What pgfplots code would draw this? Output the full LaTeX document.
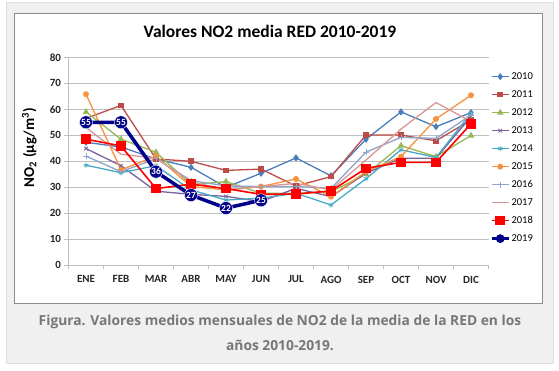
\documentclass[border=0pt]{standalone}
\usepackage{pgfplots}
\usepackage{pgfplotstable}
\pgfplotsset{compat=1.18}
\usepackage{fontspec}
\setmainfont{Carlito}
\newfontfamily\capfont{Open Sans}
\usetikzlibrary{plotmarks}
\definecolor{cA}{HTML}{4A7EBB}
\definecolor{cB}{HTML}{BE4B48}
\definecolor{cC}{HTML}{98B954}
\definecolor{cD}{HTML}{7D60A0}
\definecolor{cE}{HTML}{46AAC5}
\definecolor{cF}{HTML}{F69240}
\definecolor{cG}{HTML}{8EA5CB}
\definecolor{cH}{HTML}{D99694}
\definecolor{cI}{HTML}{FF0000}
\definecolor{cJ}{HTML}{00008B}
\definecolor{panel}{HTML}{F0F0F0}
\definecolor{panelborder}{HTML}{DDDDDD}
\definecolor{boxborder}{HTML}{8C8C8C}
\definecolor{gridc}{HTML}{BFBFBF}
\definecolor{capc}{HTML}{777777}

\pgfplotstableread{
m  a    b    c    d    e    f    g    h    i
0  47.3 56.5 59.0 44.9 38.5 65.8 42.0 53.0 48.5
1  45.5 61.5 48.5 38.3 35.6 36.7 36.0 42.7 45.9
2  40.9 40.9 43.5 28.5 38.3 42.0 41.0 41.2 29.5
3  37.7 40.0 31.0 27.3 29.0 30.3 32.6 32.2 31.2
4  30.0 36.5 32.2 26.5 25.1 29.0 30.5 29.0 29.5
5  35.4 37.0 27.7 24.5 25.8 30.3 30.3 30.3 27.3
6  41.3 30.5 27.7 29.6 27.7 33.2 30.3 31.5 27.4
7  34.4 34.1 28.3 26.4 23.2 26.4 29.6 29.0 28.6
8  48.5 50.1 35.0 35.4 33.3 36.0 43.5 40.5 37.3
9  59.0 50.1 46.0 41.2 44.4 41.8 49.2 52.4 39.6
10 53.3 47.9 41.8 41.2 41.5 56.3 48.8 62.6 39.6
11 58.7 55.9 49.9 57.2 58.5 65.4 57.8 55.3 54.4
}\datatable
\pgfplotstableread{
m  j
0  55
1  55
2  36
3  27
4  22
5  25
}\datanineteen

\begin{document}
\begin{tikzpicture}[x=1pt,y=1pt]
\useasboundingbox (0,0) rectangle (559,371);
\fill[white] (0,0) rectangle (559,371);
\filldraw[fill=panel, draw=panelborder, line width=0.8pt] (6,8) rectangle (553,369);
\filldraw[fill=white, draw=boxborder, line width=0.6pt] (14,68) rectangle (542,358);
\node[font=\fontsize{17.5}{19}\selectfont\bfseries] at (270,340) {Valores NO2 media RED 2010-2019};
\node[font=\capfont\fontsize{13.8}{16}\selectfont\bfseries, text=capc] at (280,49.5) {Figura. Valores medios mensuales de NO2 de la media de la RED en los};
\node[font=\capfont\fontsize{13.8}{16}\selectfont\bfseries, text=capc] at (280,25.5) {años 2010-2019.};
\begin{axis}[
  at={(68.5pt,105.7pt)}, anchor=south west,
  scale only axis, width=420pt, height=208pt,
  xmin=-0.5, xmax=11.5, ymin=0, ymax=80,
  ytick={0,10,...,80},
  xtick={0,...,11},
  xticklabels={ENE,FEB,MAR,ABR,MAY,JUN,JUL,AGO,SEP,OCT,NOV,DIC},
  minor xtick={-0.5,0.5,...,11.5},
  axis x line*=bottom, axis y line*=left,
  axis line style={draw=gridc, line width=0.8pt},
  ymajorgrids, grid style={draw=gridc, line width=0.7pt},
  tick align=outside,
  major tick length=4pt, minor tick length=4pt,
  x tick style={draw=none}, minor x tick style={draw=gridc, line width=0.7pt},
  y tick style={draw=gridc, line width=0.7pt},
  tick label style={font=\fontsize{11}{13}\selectfont\bfseries, text=black!85},
  xticklabel style={yshift=-3pt},
  /pgf/number format/assume math mode=true,
  ylabel={NO\textsubscript{2} (µg/m\textsuperscript{3})},
  ylabel style={font=\fontsize{15}{17}\selectfont\bfseries, at={(axis description cs:-0.093,0.566)}, anchor=center},
  legend style={at={(1.003,0.932)}, anchor=north west, draw=none, fill=none,
    font=\fontsize{10.5}{12}\selectfont, row sep=8pt, inner sep=0pt,
    nodes={inner sep=1pt, text height=7pt, text depth=1pt}},
  legend cell align=left,
  clip=false,
]
\addplot[color=cA, line width=1.3pt, mark=diamond*, mark size=2.6pt] table[x=m,y=a]{\datatable};
\addlegendentry{2010}
\addplot[color=cB, line width=1.3pt, mark=square*, mark size=2.2pt] table[x=m,y=b]{\datatable};
\addlegendentry{2011}
\addplot[color=cC, line width=1.3pt, mark=triangle*, mark size=2.6pt] table[x=m,y=c]{\datatable};
\addlegendentry{2012}
\addplot[color=cD, line width=1.3pt, mark=x, mark size=2.6pt, mark options={line width=0.8pt}] table[x=m,y=d]{\datatable};
\addlegendentry{2013}
\addplot[color=cE, line width=1.3pt, mark=asterisk, mark size=2.6pt, mark options={line width=0.8pt}] table[x=m,y=e]{\datatable};
\addlegendentry{2014}
\addplot[color=cF, line width=1.3pt, mark=*, mark size=2.3pt] table[x=m,y=f]{\datatable};
\addlegendentry{2015}
\addplot[color=cG, line width=1.3pt, mark=+, mark size=3pt, mark options={line width=0.8pt}] table[x=m,y=g]{\datatable};
\addlegendentry{2016}
\addplot[color=cH, line width=1.3pt, mark=none] table[x=m,y=h]{\datatable};
\addlegendentry{2017}
\addplot[color=cI, line width=1.6pt, mark=square*, mark size=4pt] table[x=m,y=i]{\datatable};
\addlegendentry{2018}
\addplot[color=cJ, line width=3.5pt, mark=*, mark size=2.5pt,
  nodes near coords={\pgfmathprintnumber[fixed,precision=0]{\pgfplotspointmeta}},
  point meta=y,
  every node near coord/.append style={anchor=center, circle, fill=cJ, draw=white, line width=0.4pt,
    text=white, inner sep=0pt, minimum size=13pt, font=\fontsize{9.5}{10}\selectfont\bfseries}
  ] table[x=m,y=j]{\datanineteen};
\addlegendentry{2019}
\end{axis}
\end{tikzpicture}
\end{document}
